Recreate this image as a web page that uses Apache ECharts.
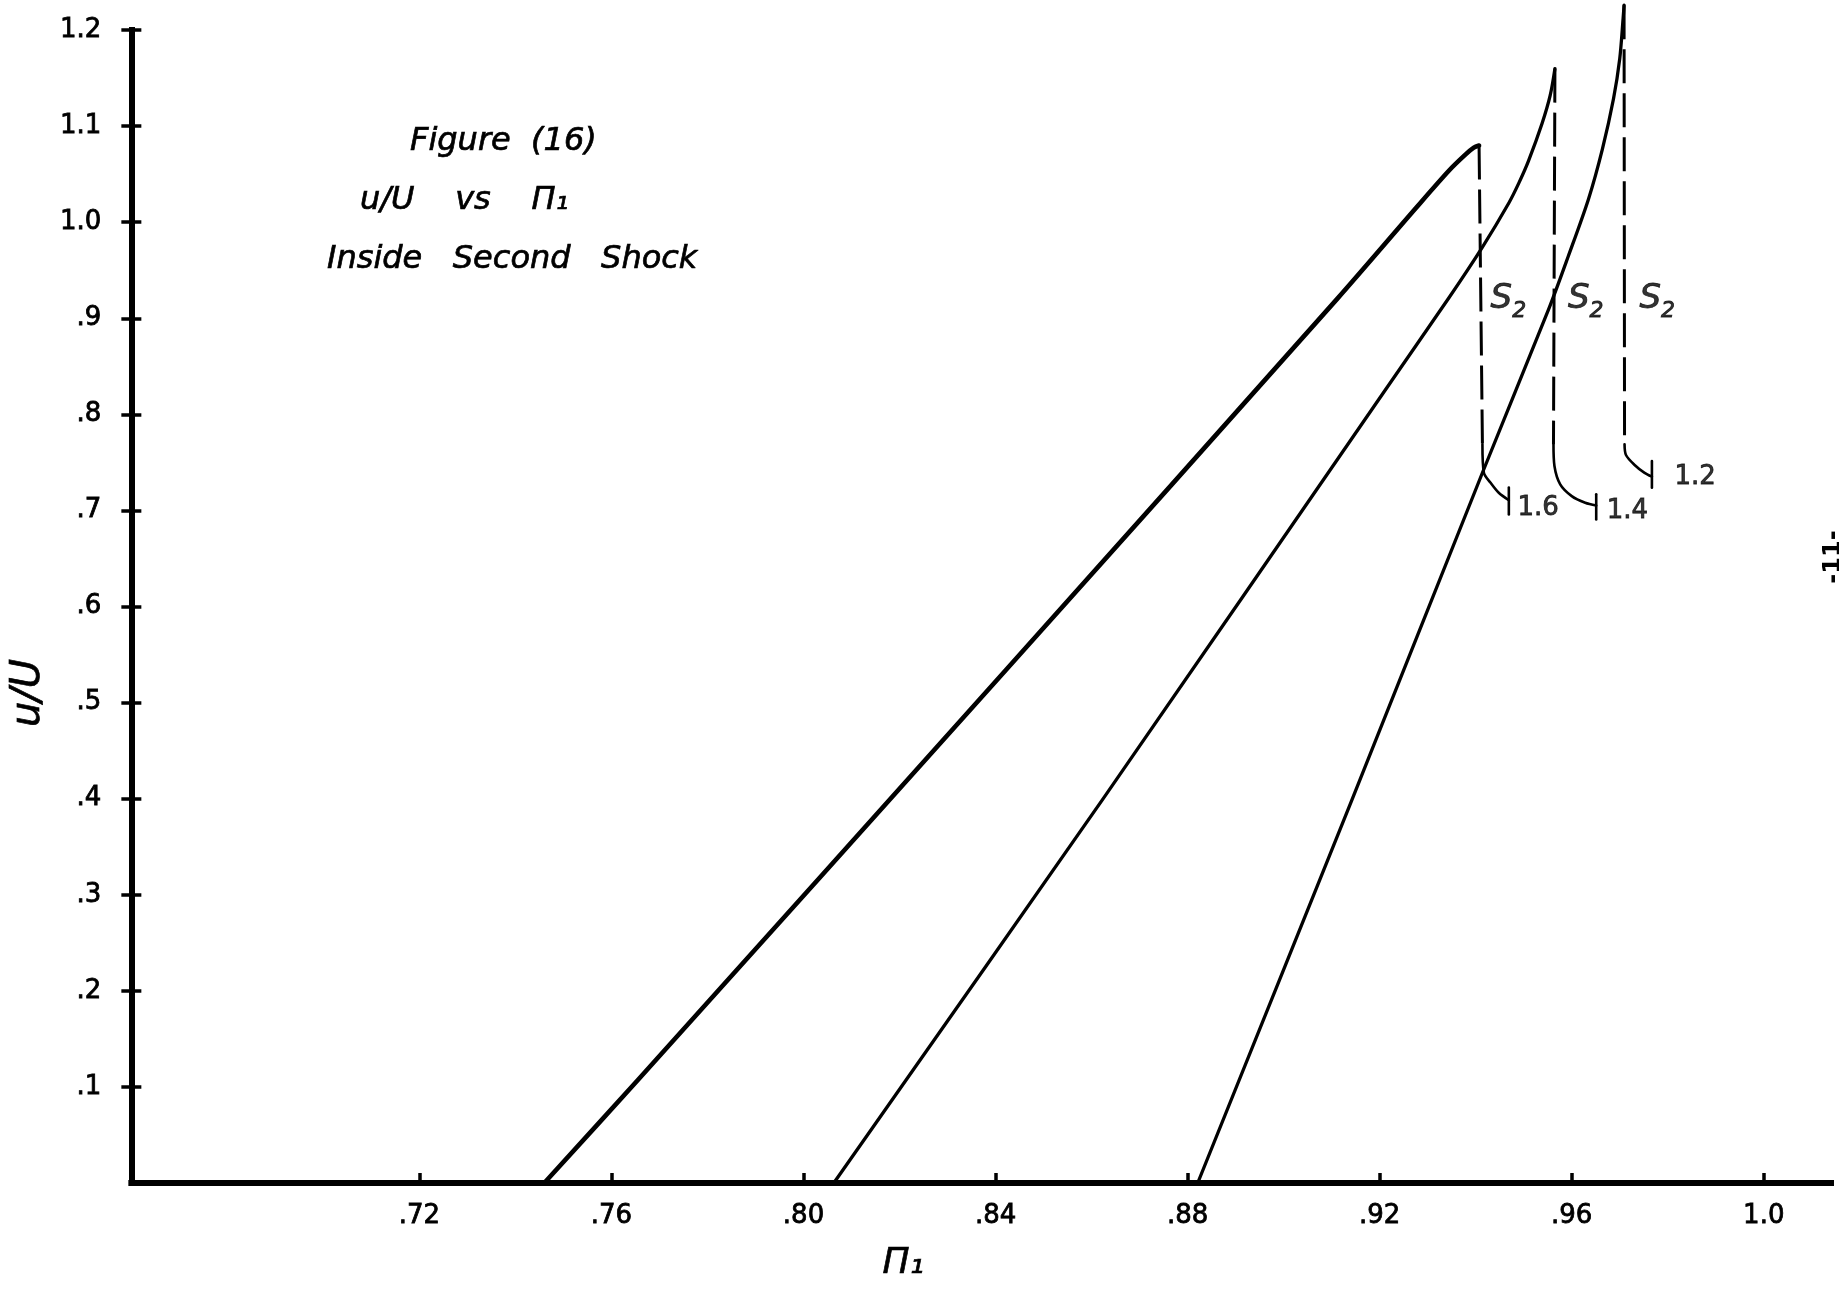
<!DOCTYPE html>
<html><head><meta charset="utf-8">
<script src="https://cdn.jsdelivr.net/npm/echarts@6/dist/echarts.min.js"></script>
<style>html,body{margin:0;padding:0;background:#fff}#c{width:1839px;height:1294px}</style>
</head><body><div id="c"></div>
<script>
// ---- axis ticks ----
const xTicks = [0.72, 0.76, 0.80, 0.84, 0.88, 0.92, 0.96, 1.00];
const xTickLabels = ['.72', '.76', '.80', '.84', '.88', '.92', '.96', '1.0'];
const yTicks = [0.1, 0.2, 0.3, 0.4, 0.5, 0.6, 0.7, 0.8, 0.9, 1.0, 1.1, 1.2];
const yTickLabels = ['.1', '.2', '.3', '.4', '.5', '.6', '.7', '.8', '.9', '1.0', '1.1', '1.2'];

// ---- case 1.6 ----
const curve16 = [[0.7460, 0], [0.7655, 0.1072], [0.8422, 0.5341], [0.9111, 0.9199], [0.9276, 1.0150], [0.9345, 1.0540], [0.9379, 1.0705], [0.9396, 1.0775], [0.9407, 1.0798]];
const shock16 = [[0.9407, 1.0798], [0.9414, 0.7688]];
const hook16 = [[0.9414, 0.7688], [0.9417, 0.7392], [0.9431, 0.7288], [0.9448, 0.7184], [0.9469, 0.7106]];
const end16 = [[0.9469, 0.7239], [0.9469, 0.6958]];

// ---- case 1.4 ----
const curve14 = [[0.8063, 0], [0.8622, 0.3985], [0.9207, 0.8220], [0.9345, 0.9219], [0.9414, 0.9741], [0.9469, 1.0200], [0.9490, 1.0409], [0.9510, 1.0638], [0.9538, 1.1024], [0.9555, 1.1316], [0.9565, 1.1598]];
const shock14 = [[0.9565, 1.1598], [0.9562, 0.7688]];
const hook14 = [[0.9562, 0.7688], [0.9564, 0.7462], [0.9576, 0.7271], [0.9600, 0.7149], [0.9628, 0.7080], [0.9651, 0.7052]];
const end14 = [[0.9651, 0.7167], [0.9651, 0.6906]];

// ---- case 1.2 ----
const curve12 = [[0.8821, 0], [0.9142, 0.3986], [0.9414, 0.7392], [0.9552, 0.9095], [0.9593, 0.9648], [0.9635, 1.0242], [0.9664, 1.0763], [0.9687, 1.1284], [0.9700, 1.1702], [0.9707, 1.2119], [0.9709, 1.2258]];
const shock12 = [[0.9709, 1.2258], [0.9710, 0.7688]];
const hook12 = [[0.9710, 0.7688], [0.9713, 0.7577], [0.9731, 0.7473], [0.9751, 0.7393], [0.9767, 0.7351]];
const end12 = [[0.9767, 0.7515], [0.9767, 0.7237]];

// ---- annotations ----
const caseNames = ['1.6', '1.4', '1.2'];
const casePos = [[0.9486, 0.7025], [0.9672, 0.6994], [0.9813, 0.7348]];
const shockPos = [[0.9430, 0.9140], [0.9591, 0.9140], [0.9740, 0.9140]];

const FONT = 'DejaVu Sans';
const BLACK = '#000';

function lineSeries(name, data, width, smooth) {
  return {
    name: name, type: 'line', data: data, symbol: 'none', showSymbol: false,
    clip: false, silent: true, z: 3, smooth: smooth || false,
    lineStyle: { color: BLACK, width: width, cap: 'round', join: 'round' }
  };
}
function dashed(name, data) {
  return {
    name: name, type: 'line', data: data, symbol: 'none', showSymbol: false,
    clip: false, silent: true, z: 3,
    lineStyle: { color: BLACK, width: 3, type: [34, 10], cap: 'butt' }
  };
}

const cases = [
  { id: '1.6', curve: curve16, shock: shock16, hook: hook16, end: end16, w: 4.6 },
  { id: '1.4', curve: curve14, shock: shock14, hook: hook14, end: end14, w: 3.3 },
  { id: '1.2', curve: curve12, shock: shock12, hook: hook12, end: end12, w: 3.3 }
];

const series = [];
cases.forEach(c => {
  series.push(lineSeries('M ' + c.id, c.curve, c.w, 0.3));
  series.push(dashed('S2 ' + c.id, c.shock));
  series.push(lineSeries('hook ' + c.id, c.hook, 2.6, 0.3));
  series.push(lineSeries('end ' + c.id, c.end, 2.6, false));
});

const thick = { textBorderColor: BLACK, textBorderWidth: 0.8 };
const annData = [];
caseNames.forEach((t, i) => annData.push({
  name: t, value: casePos[i],
  label: Object.assign({ formatter: '{b}', fontSize: 26, fontStyle: 'normal', color: BLACK, fontFamily: FONT }, thick)
}));
shockPos.forEach(p => annData.push({
  name: 'S2', value: p,
  label: {
    formatter: '{s|S}{d|2}', color: BLACK,
    rich: {
      s: Object.assign({ fontFamily: FONT, fontSize: 34, fontStyle: 'italic', color: BLACK, lineHeight: 34, verticalAlign: 'bottom', padding: [0, 0, 6, 0] }, thick),
      d: Object.assign({ fontFamily: FONT, fontSize: 22, fontStyle: 'italic', color: BLACK, lineHeight: 22, verticalAlign: 'bottom' }, thick)
    }
  }
}));
series.push({
  name: 'labels', type: 'scatter', data: annData, symbolSize: 1, silent: true,
  itemStyle: { color: 'rgba(0,0,0,0)' }, z: 5,
  label: { show: true, position: 'right', distance: 0, color: BLACK, fontFamily: FONT }
});

function fmt(ticks, labels) {
  return function (v) {
    const i = ticks.findIndex(t => Math.abs(t - v) < 1e-6);
    return i >= 0 ? labels[i] : '';
  };
}

const titleStyle = Object.assign({ fontFamily: FONT, fontStyle: 'italic', fontWeight: 'normal', fontSize: 32, color: BLACK }, { textBorderColor: BLACK, textBorderWidth: 0.7 });
const tickFont = Object.assign({ fontFamily: FONT, fontSize: 26, color: BLACK }, thick);

const option = {
  animation: false,
  backgroundColor: '#fff',
  title: [
    { text: 'Figure  (16)', left: 410, top: 126, padding: 0, textStyle: titleStyle },
    { text: 'u/U    vs    Π₁', left: 360, top: 185, padding: 0, textStyle: titleStyle },
    { text: 'Inside   Second   Shock', left: 327, top: 244, padding: 0, textStyle: titleStyle }
  ],
  grid: { left: 120, right: 8, top: 30, bottom: 111, containLabel: false },
  xAxis: {
    type: 'value', min: 0.66, max: 1.014,
    name: 'Π₁', nameLocation: 'middle', nameGap: 63,
    nameTextStyle: Object.assign({ fontFamily: FONT, fontStyle: 'italic', fontSize: 36, color: BLACK, padding: [0, 156, 0, 0] }, { textBorderColor: BLACK, textBorderWidth: 0.7 }),
    splitLine: { show: false },
    axisLine: { show: true, onZero: false, lineStyle: { color: BLACK, width: 6, cap: 'square' } },
    axisTick: { show: true, inside: true, length: 10, customValues: xTicks, lineStyle: { color: BLACK, width: 3.5 } },
    axisLabel: Object.assign({ show: true, customValues: xTicks, margin: 20, formatter: fmt(xTicks, xTickLabels) }, tickFont)
  },
  yAxis: [
    {
      type: 'value', min: 0, max: 1.2, position: 'left',
      name: 'u/U', nameLocation: 'middle', nameGap: 72, nameRotate: 90,
      nameTextStyle: Object.assign({ fontFamily: FONT, fontStyle: 'italic', fontSize: 40, color: BLACK, padding: [0, 173, 0, 0] }, { textBorderColor: BLACK, textBorderWidth: 0.7 }),
      splitLine: { show: false },
      axisLine: { show: true, onZero: false, lineStyle: { color: BLACK, width: 6, cap: 'square' } },
      axisTick: { show: true, inside: true, length: 10, customValues: yTicks, lineStyle: { color: BLACK, width: 3.5 } },
      axisLabel: Object.assign({ show: true, customValues: yTicks, margin: 30, formatter: fmt(yTicks, yTickLabels) }, tickFont)
    },
    {
      type: 'value', min: 0, max: 1.2, position: 'left', offset: 0,
      splitLine: { show: false },
      axisLine: { show: false, onZero: false },
      axisTick: { show: true, inside: false, length: 10, customValues: yTicks, lineStyle: { color: BLACK, width: 3.5 } },
      axisLabel: { show: false }
    }
  ],
  graphic: [
    { type: 'text', x: 1834, y: 557, rotation: Math.PI / 2, silent: true,
      style: { text: '-11-', fontFamily: FONT, fontSize: 24, fontWeight: 'bold', fill: BLACK, align: 'center', verticalAlign: 'middle' } }
  ],
  series: series
};

const chart = echarts.init(document.getElementById('c'), null, { renderer: 'canvas' });
chart.setOption(option);
</script>
</body></html>
